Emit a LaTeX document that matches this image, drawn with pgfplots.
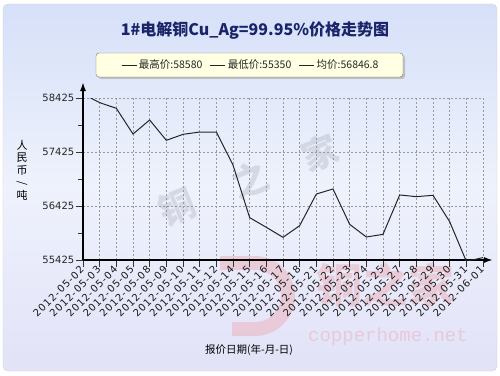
\documentclass[border=0pt]{standalone}
\usepackage{pgfplots}
\pgfplotsset{compat=1.18}
\usepackage{fontspec}
\setmainfont{DejaVu Sans}
\newfontfamily\cjk{Noto Sans CJK SC}
\newfontfamily\tickfont[LetterSpace=10]{DejaVu Sans}
\newfontfamily\wmmono{Liberation Mono}
\usetikzlibrary{arrows.meta}
\definecolor{panelTop}{HTML}{D6E0F8}
\definecolor{panelMid}{HTML}{EEF2FC}
\definecolor{panelBot}{HTML}{E2E2F8}
\definecolor{titleblue}{HTML}{1A2468}
\definecolor{legfill}{HTML}{FFFFE3}
\definecolor{wmpink}{HTML}{EDA8B0}
\definecolor{wmgray}{HTML}{B8BCC8}
\begin{document}
\begin{tikzpicture}[x=1pt,y=1pt]
\useasboundingbox (0,0) rectangle (500,375);
\path[draw=black!18, rounded corners=5pt, top color=panelTop, bottom color=panelBot, middle color=panelMid] (3,4) rectangle (497,371);
% watermarks
\begin{scope}[opacity=0.45]
\node[rotate=22, text=wmgray, font=\cjk\bfseries\fontsize{36}{36}\selectfont] at (177,168) {铜};
\node[rotate=22, text=wmgray, font=\cjk\bfseries\fontsize{36}{36}\selectfont] at (250,195) {之};
\node[rotate=22, text=wmgray, font=\cjk\bfseries\fontsize{36}{36}\selectfont] at (320,222) {家};
\end{scope}
\begin{scope}[opacity=0.45]
\draw[wmpink, line width=14pt] (220,112) -- (255,112) arc (90:-90:33) -- (232,46);
\node[text=wmpink, font=\cjk\bfseries\fontsize{46}{46}\selectfont] at (385,90) {铜之家};
\node[text=wmpink, font=\wmmono\fontsize{19}{19}\selectfont] at (388,38) {copperhome.net};
\end{scope}
% title and legend
\node[font=\cjk\bfseries\fontsize{16}{16}\selectfont, text=titleblue] at (255,344) {1\#电解铜Cu\_Ag=99.95\%价格走势图};
\fill[black!25, rounded corners=3pt] (98,296) rectangle (405,320);
\draw[black!55, fill=legfill, rounded corners=3pt] (96,298) rectangle (403,322);
\node[font=\cjk\fontsize{10.5}{11}\selectfont, text=black!85] at (250,310) {\rule[0.55ex]{15pt}{0.6pt}\ 最高价:58580\hspace{8pt}\rule[0.55ex]{15pt}{0.6pt}\ 最低价:55350\hspace{8pt}\rule[0.55ex]{15pt}{0.6pt}\ 均价:56846.8};
% axis labels
\node[font=\cjk\fontsize{11}{12.5}\selectfont, align=center] at (22,205) {人\\民\\币\\\rotatebox[origin=c]{90}{/}\\吨};
\node[font=\cjk\fontsize{10.5}{11}\selectfont] at (249,25) {报价日期(年-月-日)};
\begin{axis}[
  at={(83pt,115pt)}, anchor=south west, scale only axis,
  width=400pt, height=162pt,
  xmin=0, xmax=24, ymin=55425, ymax=58425,
  scaled y ticks=false, scaled x ticks=false,
  axis x line=bottom, axis y line=left,
  x axis line style={line width=1.6pt, -{Latex[length=9pt,width=6pt]}, shorten >=-10pt},
  y axis line style={line width=1.6pt, -{Latex[length=9pt,width=6pt]}, shorten >=-16pt},
  xtick={0,...,24},
  xticklabels={2012-05-02,2012-05-03,2012-05-04,2012-05-05,2012-05-08,2012-05-09,2012-05-10,2012-05-11,2012-05-12,2012-05-14,2012-05-15,2012-05-16,2012-05-17,2012-05-18,2012-05-21,2012-05-22,2012-05-23,2012-05-24,2012-05-25,2012-05-27,2012-05-28,2012-05-29,2012-05-30,2012-05-31,2012-06-01},
  xticklabel style={rotate=45, anchor=east, font=\tickfont\fontsize{10}{10}\selectfont, inner sep=1pt, text=black!90},
  ytick={55425,56425,57425,58425},
  yticklabels={55425,56425,57425,58425},
  yticklabel style={font=\fontsize{10}{10}\selectfont, inner sep=1.5pt, text=black!85},
  minor ytick={55925,56925,57925},
  grid=major,
  major grid style={gray!80, line width=0.5pt, dash pattern=on 2pt off 2pt},
  tick align=outside, major tick length=7pt, minor tick length=5pt,
  tick style={black!80, line width=0.5pt},
]
\addplot[black!85, line width=1pt] table {
x y
0 58499
1 58339
2 58234
3 57758
4 58018
5 57641
6 57752
7 57795
8 57795
9 57184
10 56209
11 56030
12 55845
13 56061
14 56647
15 56740
16 56085
17 55851
18 55900
19 56629
20 56598
21 56623
22 56135
23 55400
24 55470
};
\end{axis}
\end{tikzpicture}
\end{document}
